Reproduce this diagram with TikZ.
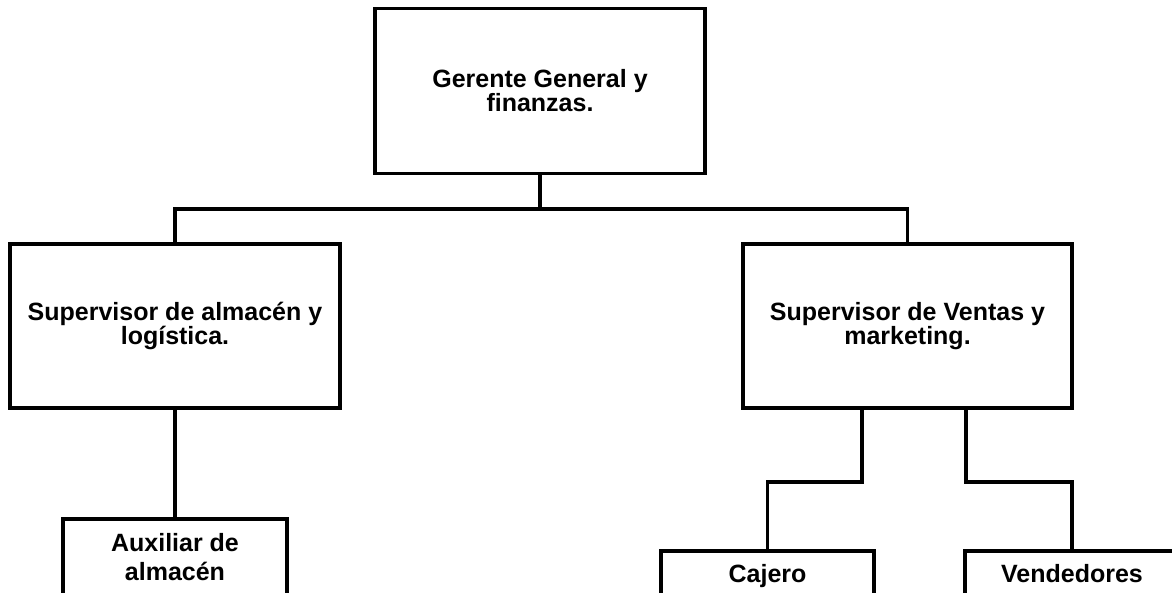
\documentclass[tikz,border=0pt]{standalone}
\usepackage{fontspec}
\setmainfont{Liberation Sans}
\begin{document}
\begin{tikzpicture}[x=1pt,y=-1pt,
  box/.style={draw=black,line width=3.2pt,rectangle,inner sep=0pt,align=center,
    font=\bfseries\fontsize{25}{24}\selectfont,fill=white},
  single/.style={text height=21pt,text depth=2pt},
  conn/.style={draw=black,line width=3.2pt,line join=miter}]
\clip (0,0) rectangle (1172,592);
\fill[white] (0,0) rectangle (1172,592);
\coordinate (j) at (540,209);
\coordinate (r1) at (862,482);
\coordinate (r2) at (966,482);
\node[box,minimum width=330,minimum height=165] (top) at (540,91) {Gerente General y\\finanzas.};
\node[box,minimum width=330,minimum height=164] (left) at (175,326) {Supervisor de almacén y\\logística.};
\node[box,minimum width=329,minimum height=164] (right) at (907.5,326) {Supervisor de Ventas y\\marketing.};
\node[box,minimum width=224,minimum height=76,font=\bfseries\fontsize{25}{29}\selectfont] (aux) at (175,557) {Auxiliar de\\almacén};
\node[box,single,minimum width=213,minimum height=44] (caj) at (767.5,573) {Cajero};
\node[box,single,minimum width=214,minimum height=44] (ven) at (1072,573) {Vendedores};
\draw[conn] (top.south) -- (j);
\draw[conn] (j) -| (left.north);
\draw[conn] (j) -| (right.north);
\draw[conn] (left.south) -- (aux.north);
\draw[conn] (r1 |- right.south) -- (r1) -| (caj.north);
\draw[conn] (r2 |- right.south) -- (r2) -| (ven.north);
\end{tikzpicture}
\end{document}
